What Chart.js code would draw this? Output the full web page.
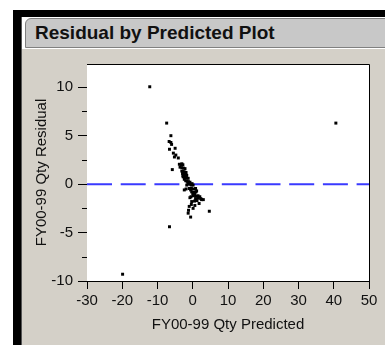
<!DOCTYPE html>
<html>
<head>
<meta charset="utf-8">
<script src="https://cdn.jsdelivr.net/npm/chart.js@4/dist/chart.umd.min.js"></script>
<style>
  body { margin: 0; background: #fff; width: 385px; height: 345px; overflow: hidden; position: relative; font-family: "Liberation Sans", Arial, sans-serif; }
  #frameTop { position: absolute; left: 13px; top: 10px; width: 372px; height: 7px; background: #000; }
  #frameLeft { position: absolute; left: 13px; top: 10px; width: 8px; height: 335px; background: #000; }
  #gutter { position: absolute; left: 21px; top: 17px; width: 1px; height: 328px; background: #555; }
  #titleBar { position: absolute; left: 25px; top: 18px; width: 362px; height: 30px; background: #c8c8c8;
              border: 1px solid #808080; border-radius: 6px 0 0 0; box-sizing: border-box;
              font-weight: bold; font-size: 19px; line-height: 28px; padding-left: 9px; color: #111; }
  #panel { position: absolute; left: 22px; top: 49px; width: 363px; height: 296px; background: #d4d0c8; }
  #chart { position: absolute; left: 0; top: 1px; }
</style>
</head>
<body>
<div id="frameTop"></div>
<div id="frameLeft"></div>
<div id="gutter"></div>
<div id="titleBar">Residual by Predicted Plot</div>
<div id="panel"><canvas id="chart" width="363" height="295"></canvas></div>
<script>
// predicted (x) and residual (y) values
var predicted = [
  -12.2, 40.6, -19.9, -6.6, 4.7,
  -7.4, -6.2, -6.7, -6.2, -6.0, -6.6, -5.0, -5.5, -4.8, -5.2, -4.1, -3.1, -5.8,
  -3.8, -3.3, -2.8,
  -3.6, -3.1, -2.6, -2.2,
  -3.1, -2.7, -2.3, -1.9, -2.9,
  -2.5, -2.0, -1.7, -2.8,
  -2.7, -2.2, -1.8, -1.3, -2.4,
  -2.0, -1.6, -1.2, -0.8, -1.4,
  -1.0, -0.5, 0.1, -1.7, -0.2,
  -1.0, -0.4, 0.2, 0.8, -0.6, -2.4, -1.9,
  -0.3, 0.3, 0.9, 1.1, 0.0, 0.6,
  0.2, 0.9, 1.5, 2.0, -0.5,
  1.6, 2.3, 3.0, 2.5, -0.8, 0.8,
  -0.3, 0.5, 1.2, 1.8,
  -1.0, -0.4, -1.3, -0.6, -1.2, 0.1, 0.6
];
var residual = [
  10.05, 6.3, -9.3, -4.4, -2.8,
  6.3, 5.0, 4.4, 4.3, 4.1, 3.6, 3.7, 3.2, 3.0, 2.8, 2.7, 2.1, 1.5,
  2.05, 2.0, 2.0,
  1.75, 1.7, 1.65, 1.6,
  1.35, 1.3, 1.25, 1.2, 1.1,
  1.0, 0.95, 0.9, 0.85,
  0.75, 0.7, 0.65, 0.6, 0.5,
  0.35, 0.3, 0.25, 0.2, 0.1,
  0.0, -0.05, -0.1, -0.1, 0.05,
  -0.45, -0.4, -0.5, -0.45, -0.6, -0.6, -0.5,
  -0.8, -0.85, -0.8, -0.7, -1.0, -1.05,
  -1.2, -1.25, -1.2, -1.3, -1.3,
  -1.45, -1.5, -1.6, -1.6, -1.4, -1.5,
  -1.8, -1.75, -1.7, -2.0,
  -2.3, -2.1, -3.0, -3.4, -2.7, -2.5, -2.2
];
var zeroLineX = [-30, 50];
var zeroLineY = [0, 0];
var xTicks = [-30, -20, -10, 0, 10, 20, 30, 40, 50];
var yTicks = [-10, -5, 0, 5, 10];
var yMinorTicks = [-7.5, -2.5, 2.5, 7.5];

var fontFamily = '"Liberation Sans", Arial, sans-serif';

var points = predicted.map(function (x, i) { return { x: x, y: residual[i] }; });
var zeroLine = zeroLineX.map(function (x, i) { return { x: x, y: zeroLineY[i] }; });

// minor ticks on the y axis and the frame round the plot
var framePlugin = {
  id: 'framePlugin',
  beforeDatasetsDraw: function (chart) {
    var ctx = chart.ctx, a = chart.chartArea;
    ctx.save();
    ctx.fillStyle = '#fff';
    ctx.fillRect(a.left, a.top, a.right - a.left, a.bottom - a.top);
    ctx.restore();
  },
  afterDraw: function (chart) {
    var ctx = chart.ctx, a = chart.chartArea, y = chart.scales.y;
    ctx.save();
    ctx.strokeStyle = '#000';
    ctx.lineWidth = 1;
    ctx.beginPath();
    yMinorTicks.forEach(function (v) {
      var py = Math.round(y.getPixelForValue(v)) + 0.5;
      ctx.moveTo(a.left - 5, py);
      ctx.lineTo(a.left, py);
    });
    ctx.moveTo(a.left, a.top + 0.5);
    ctx.lineTo(a.right + 0.5, a.top + 0.5);
    ctx.lineTo(a.right + 0.5, a.bottom);
    ctx.stroke();
    ctx.restore();
  }
};

new Chart(document.getElementById('chart'), {
  type: 'scatter',
  data: {
    datasets: [
      {
        label: 'Residual',
        data: points,
        pointStyle: 'rect',
        pointRadius: 2.1,
        pointBorderWidth: 0,
        backgroundColor: '#000',
        borderColor: '#000',
        order: 0
      },
      {
        type: 'line',
        label: 'Zero',
        data: zeroLine,
        borderColor: '#3a3aff',
        borderWidth: 2,
        borderDash: [25, 8.7],
        pointRadius: 0,
        fill: false,
        order: 1
      }
    ]
  },
  options: {
    responsive: false,
    animation: false,
    layout: { padding: { top: 13, right: 16, left: 0, bottom: 0 } },
    plugins: { legend: { display: false }, tooltip: { enabled: false } },
    scales: {
      x: {
        type: 'linear',
        min: -30,
        max: 50,
        afterBuildTicks: function (s) { s.ticks = xTicks.map(function (v) { return { value: v }; }); },
        afterFit: function (s) { s.height = 64; },
        grid: { drawOnChartArea: false, tickLength: 8, tickColor: '#000' },
        border: { color: '#000', width: 1 },
        ticks: { color: '#111', font: { family: fontFamily, size: 15 }, padding: 3, maxRotation: 0, autoSkip: false },
        title: { display: true, text: 'FY00-99 Qty Predicted', color: '#111', font: { family: fontFamily, size: 15 }, padding: { top: 0, bottom: 11 } }
      },
      y: {
        type: 'linear',
        min: -10,
        max: 12.4,
        afterBuildTicks: function (s) { s.ticks = yTicks.map(function (v) { return { value: v }; }); },
        afterFit: function (s) { s.width = 65; },
        grid: { drawOnChartArea: false, tickLength: 9, tickColor: '#000' },
        border: { color: '#000', width: 1 },
        ticks: { color: '#111', font: { family: fontFamily, size: 15 }, padding: 5, autoSkip: false },
        title: { display: true, text: 'FY00-99 Qty Residual', color: '#111', font: { family: fontFamily, size: 15 }, padding: { top: 11, bottom: 0 } }
      }
    }
  },
  plugins: [framePlugin]
});
</script>
</body>
</html>
